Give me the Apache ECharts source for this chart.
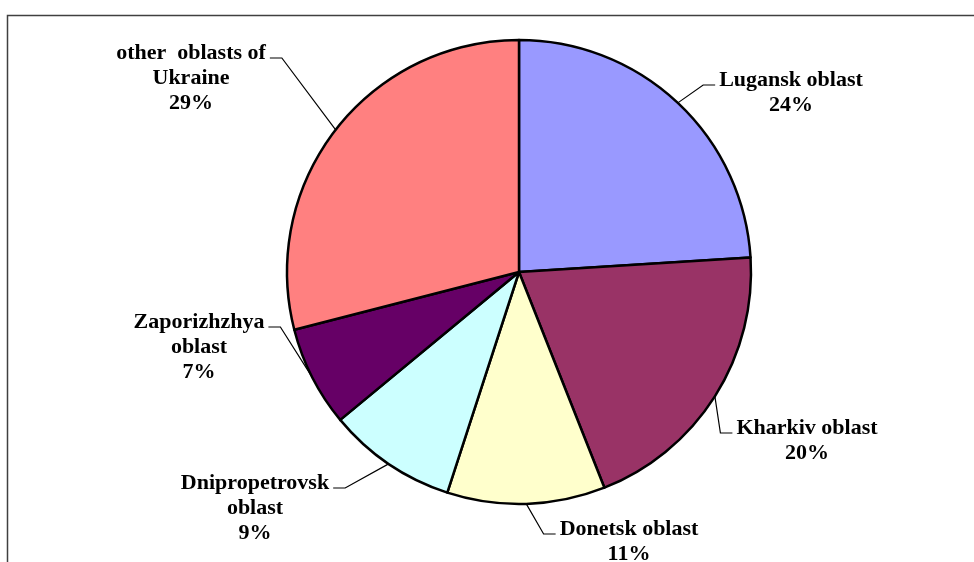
<!DOCTYPE html>
<html>
<head>
<meta charset="utf-8">
<script src="https://cdn.jsdelivr.net/npm/echarts@6/dist/echarts.min.js"></script>
<style>
  html, body { margin: 0; padding: 0; background: #fff; }
  #chart { width: 974px; height: 562px; }
</style>
</head>
<body>
<div id="chart"></div>
<script>
// share of each region, %
var regions = ['Lugansk oblast', 'Kharkiv oblast', 'Donetsk oblast', 'Dnipropetrovsk\noblast', 'Zaporizhzhya\noblast', 'other  oblasts of\nUkraine'];
var shares = [24, 20, 11, 9, 7, 29];
var colors = ['#9999FF', '#993366', '#FFFFCC', '#CCFFFF', '#660066', '#FF8080'];

// where each label block sits (top centre), px
var labelAnchors = [[791, 68], [807, 416], [629, 517], [255, 471], [199, 310], [191, 41]];

var cx = 519, cy = 272, R = 232;

var total = shares.reduce(function (a, b) { return a + b; }, 0);

// point on the rim at the middle of slice i
function rimPoint(i) {
  var before = 0;
  for (var k = 0; k < i; k++) before += shares[k];
  var mid = before + shares[i] / 2;
  var ang = (90 - mid / total * 360) * Math.PI / 180;
  return [cx + R * Math.cos(ang), cy - R * Math.sin(ang)];
}

var myChart = echarts.init(document.getElementById('chart'));

myChart.setOption({
  animation: false,
  backgroundColor: '#fff',
  graphic: [
    {
      type: 'polyline',
      shape: { points: [[7.5, 600], [7.5, 15.5], [1000, 15.5]] },
      style: { stroke: '#404040', lineWidth: 1.5, fill: null }
    }
  ],
  series: [
    {
      type: 'pie',
      center: [cx, cy],
      radius: R,
      startAngle: 90,
      clockwise: true,
      avoidLabelOverlap: false,
      data: regions.map(function (n, i) {
        return { name: n, value: shares[i], itemStyle: { color: colors[i] } };
      }),
      itemStyle: { borderColor: '#000', borderWidth: 2.5 },
      label: {
        show: true,
        position: 'outside',
        formatter: '{b}\n{d}%',
        fontFamily: '"Liberation Serif", "Times New Roman", serif',
        fontWeight: 'bold',
        fontSize: 22,
        lineHeight: 25,
        color: '#000',
        padding: 0
      },
      labelLine: {
        show: true,
        lineStyle: { color: '#000', width: 1.2 }
      },
      emphasis: { disabled: true },
      labelLayout: function (p) {
        var a = labelAnchors[p.dataIndex];
        var w = p.labelRect.width;
        var onLeft = a[0] < cx;
        var edge = onLeft ? a[0] + w / 2 + 4 : a[0] - w / 2 - 4;
        var turn = onLeft ? edge + 12 : edge - 12;
        var yl = a[1] + 17;
        return {
          x: a[0],
          y: a[1],
          align: 'center',
          verticalAlign: 'top',
          labelLinePoints: [rimPoint(p.dataIndex), [turn, yl], [edge, yl]]
        };
      }
    }
  ]
});
</script>
</body>
</html>
